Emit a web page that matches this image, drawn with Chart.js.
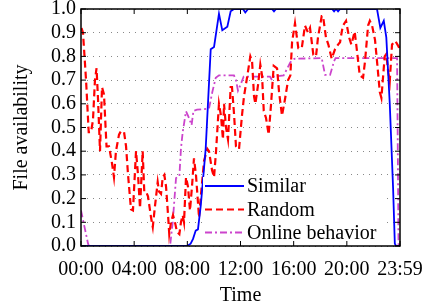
<!DOCTYPE html>
<html>
<head>
<meta charset="utf-8">
<script src="https://cdn.jsdelivr.net/npm/chart.js@4.4.0/dist/chart.umd.min.js"></script>
<style>
  html, body { margin: 0; padding: 0; background: #fff; }
  #wrap { width: 425px; height: 304px; }
</style>
</head>
<body>
<div id="wrap"><canvas id="c" width="425" height="304"></canvas></div>
<script>
// ---- data (time in hours, value = file availability) ----
const xTickValues = [0, 4, 8, 12, 16, 20, 24];
const xTickLabels = ['00:00', '04:00', '08:00', '12:00', '16:00', '20:00', '23:59'];

const simT = [0, 7.98, 8.25, 8.43, 8.63, 8.80, 9.01, 9.38, 9.76, 10.01,
  10.38, 10.63, 11.01, 11.26, 11.51, 12.19, 12.36, 12.57, 14.37, 14.52,
  14.67, 18.89, 19.04, 19.19, 19.34, 19.49, 22.27, 22.52, 22.78, 22.97,
  23.23, 23.48, 23.61, 23.70, 24];
const simV = [0, 0, 0.01, 0.03, 0.065, 0.07, 0.17, 0.41, 0.83, 0.84,
  0.98, 0.91, 0.925, 0.99, 1.0, 1.0, 0.985, 1.0, 1.0, 0.99,
  1.0, 1.0, 0.99, 1.0, 0.99, 1.0, 1.0, 0.92, 0.95, 0.88,
  0.60, 0.245, 0.01, 0, 0];

const randT = [0.04, 0.15, 0.38, 0.58, 0.75, 0.90, 1.05, 1.17, 1.28, 1.43,
  1.58, 1.73, 1.92, 2.11, 2.33, 2.48, 2.63, 2.86, 3.01, 3.24,
  3.39, 3.54, 3.76, 3.91, 4.03, 4.14, 4.29, 4.44, 4.64, 4.76,
  4.89, 5.04, 5.27, 5.40, 5.57, 5.77, 5.87, 6.02, 6.15, 6.27,
  6.40, 6.55, 6.64, 6.77, 6.92, 7.07, 7.22, 7.40, 7.52, 7.65,
  7.75, 7.90, 8.05, 8.20, 8.35, 8.50, 8.65, 8.88, 9.03, 9.26,
  9.50, 9.63, 9.86, 10.01, 10.16, 10.38, 10.53, 10.68, 10.76, 10.91,
  11.06, 11.26, 11.36, 11.51, 11.66, 11.76, 11.89, 12.11, 12.26, 12.49,
  12.74, 12.87, 13.02, 13.12, 13.32, 13.49, 13.62, 13.75, 13.92, 14.12,
  14.30, 14.50, 14.75, 14.90, 15.12, 15.35, 15.58, 15.75, 15.88, 16.10,
  16.35, 16.61, 16.85, 17.08, 17.23, 17.48, 17.68, 17.83, 18.11, 18.21,
  18.43, 18.61, 18.86, 19.11, 19.34, 19.49, 19.62, 19.71, 19.94, 20.17,
  20.34, 20.59, 20.77, 20.97, 21.22, 21.37, 21.60, 21.73, 21.90, 22.12,
  22.27, 22.48, 22.60, 22.85, 22.97, 23.10, 23.23, 23.40, 23.65, 23.91,
  23.97];
const randV = [0.92, 0.90, 0.70, 0.48, 0.48, 0.53, 0.70, 0.75, 0.62, 0.40,
  0.67, 0.64, 0.42, 0.42, 0.35, 0.29, 0.40, 0.47, 0.485, 0.48,
  0.42, 0.30, 0.155, 0.15, 0.28, 0.40, 0.30, 0.16, 0.40, 0.23,
  0.23, 0.21, 0.12, 0.08, 0.17, 0.27, 0.23, 0.22, 0.29, 0.30,
  0.25, 0.13, 0.05, 0.10, 0.13, 0.10, 0.06, 0.05, 0.10, 0.13,
  0.10, 0.29, 0.25, 0.15, 0.25, 0.37, 0.30, 0.12, 0.22, 0.36,
  0.41, 0.40, 0.32, 0.29, 0.40, 0.60, 0.55, 0.45, 0.60, 0.50,
  0.45, 0.67, 0.67, 0.56, 0.42, 0.41, 0.41, 0.55, 0.63, 0.71,
  0.80, 0.78, 0.63, 0.60, 0.68, 0.765, 0.72, 0.57, 0.54, 0.47,
  0.60, 0.76, 0.75, 0.65, 0.55, 0.62, 0.70, 0.72, 0.86, 0.94,
  0.835, 0.835, 0.93, 0.90, 0.92, 0.807, 0.80, 0.88, 0.97, 0.97,
  0.88, 0.85, 0.79, 0.83, 0.85, 0.86, 0.905, 0.93, 0.95, 0.88,
  0.85, 0.905, 0.82, 0.72, 0.71, 0.78, 0.93, 0.95, 0.93, 0.87,
  0.78, 0.65, 0.625, 0.80, 0.81, 0.74, 0.695, 0.85, 0.865, 0.84,
  0.82];

const onT = [0, 0.53, 0.60, 6.70, 6.90, 7.15, 7.40, 7.52, 7.65, 7.90,
  8.09, 8.32, 8.46, 8.73, 9.63, 9.88, 10.14, 10.38, 11.51, 11.66,
  11.81, 12.00, 12.24, 14.22, 14.37, 14.52, 15.25, 15.75, 16.05, 18.11,
  18.36, 18.74, 19.04, 19.15, 23.78, 23.89, 24];
const onV = [0.15, 0.01, 0, 0, 0.10, 0.287, 0.294, 0.41, 0.48, 0.568,
  0.545, 0.51, 0.57, 0.575, 0.58, 0.65, 0.71, 0.72, 0.72, 0.70,
  0.655, 0.68, 0.715, 0.715, 0.70, 0.715, 0.72, 0.775, 0.79, 0.793,
  0.722, 0.722, 0.78, 0.793, 0.793, 0, 0];

const seriesNames = ['Similar', 'Random', 'Online behavior'];

// ---- build ----
const pts = (t, v) => t.map((tt, i) => ({ x: tt, y: v[i] }));
const FONT = "'Liberation Serif', 'Times New Roman', serif";

const styles = [
  { color: '#0000ff', width: 1.8, dash: [] },
  { color: '#ff0000', width: 2.2, dash: [7, 4] },
  { color: '#cc44cc', width: 1.8, dash: [7, 3, 2, 3] }
];

const framePlugin = {
  id: 'framePlugin',
  afterDatasetsDraw(chart) {
    const { ctx, chartArea: a, scales: { x, y } } = chart;
    ctx.save();
    // legend background
    ctx.fillStyle = '#ffffff';
    ctx.fillRect(203, 177, 183, a.bottom - 177);
    // legend entries
    const rows = [186, 209.5, 232.5];
    chart.data.datasets.forEach((ds, i) => {
      const s = styles[i];
      ctx.beginPath();
      ctx.strokeStyle = s.color;
      ctx.lineWidth = s.width;
      ctx.setLineDash(s.dash);
      ctx.moveTo(205, rows[i]);
      ctx.lineTo(244, rows[i]);
      ctx.stroke();
      ctx.setLineDash([]);
      ctx.fillStyle = '#000';
      ctx.font = '20px ' + FONT;
      ctx.textBaseline = 'middle';
      ctx.textAlign = 'left';
      ctx.fillText(ds.label, 247, rows[i] + 1);
    });
    // frame
    ctx.strokeStyle = '#000';
    ctx.lineWidth = 1.5;
    ctx.strokeRect(a.left, a.top, a.right - a.left, a.bottom - a.top);
    ctx.lineWidth = 1;
    const tl = 5;
    x.ticks.forEach(t => {
      const px = x.getPixelForValue(t.value);
      ctx.beginPath();
      ctx.moveTo(px, a.bottom); ctx.lineTo(px, a.bottom - tl);
      ctx.moveTo(px, a.top); ctx.lineTo(px, a.top + tl);
      ctx.stroke();
    });
    y.ticks.forEach(t => {
      const py = y.getPixelForValue(t.value);
      ctx.beginPath();
      ctx.moveTo(a.left, py); ctx.lineTo(a.left + tl, py);
      ctx.moveTo(a.right, py); ctx.lineTo(a.right - tl, py);
      ctx.stroke();
    });
    ctx.restore();
  }
};

new Chart(document.getElementById('c'), {
  type: 'line',
  data: {
    datasets: [
      { label: seriesNames[0], data: pts(simT, simV) },
      { label: seriesNames[1], data: pts(randT, randV) },
      { label: seriesNames[2], data: pts(onT, onV) }
    ].map((d, i) => Object.assign(d, {
      borderColor: styles[i].color,
      borderWidth: styles[i].width,
      borderDash: styles[i].dash,
      pointRadius: 0,
      tension: 0,
      fill: false
    }))
  },
  options: {
    responsive: false,
    animation: false,
    layout: { padding: { left: 0, right: 25, top: 9, bottom: 0 } },
    plugins: { legend: { display: false }, tooltip: { enabled: false } },
    scales: {
      x: {
        type: 'linear',
        min: 0, max: 24,
        afterFit: s => { s.height = 58; s.paddingLeft = 0; s.paddingRight = 0; },
        afterBuildTicks: s => { s.ticks = xTickValues.map(v => ({ value: v })); },
        ticks: {
          autoSkip: false, maxRotation: 0, padding: 12,
          color: '#000',
          font: { family: FONT, size: 20 },
          callback: v => xTickLabels[xTickValues.indexOf(v)]
        },
        grid: { display: false, drawTicks: false },
        border: { display: false },
        title: {
          display: true, text: 'Time', color: '#000',
          font: { family: FONT, size: 20, lineHeight: 0.8 },
          padding: { top: 0, bottom: 0 }
        }
      },
      y: {
        type: 'linear',
        min: 0, max: 1,
        afterFit: s => { s.width = 81; s.paddingTop = 0; s.paddingBottom = 0; },
        ticks: {
          stepSize: 0.1, padding: 5, color: '#000', autoSkip: false,
          font: { family: FONT, size: 20 },
          callback: v => Number(v).toFixed(1)
        },
        grid: { color: '#888', lineWidth: 1, drawTicks: false },
        border: { display: false, dash: [1, 5] },
        title: {
          display: true, text: 'File availability', color: '#000',
          font: { family: FONT, size: 20, lineHeight: 1.2 },
          padding: { top: 10, bottom: 0 }
        }
      }
    }
  },
  plugins: [framePlugin]
});
</script>
</body>
</html>
